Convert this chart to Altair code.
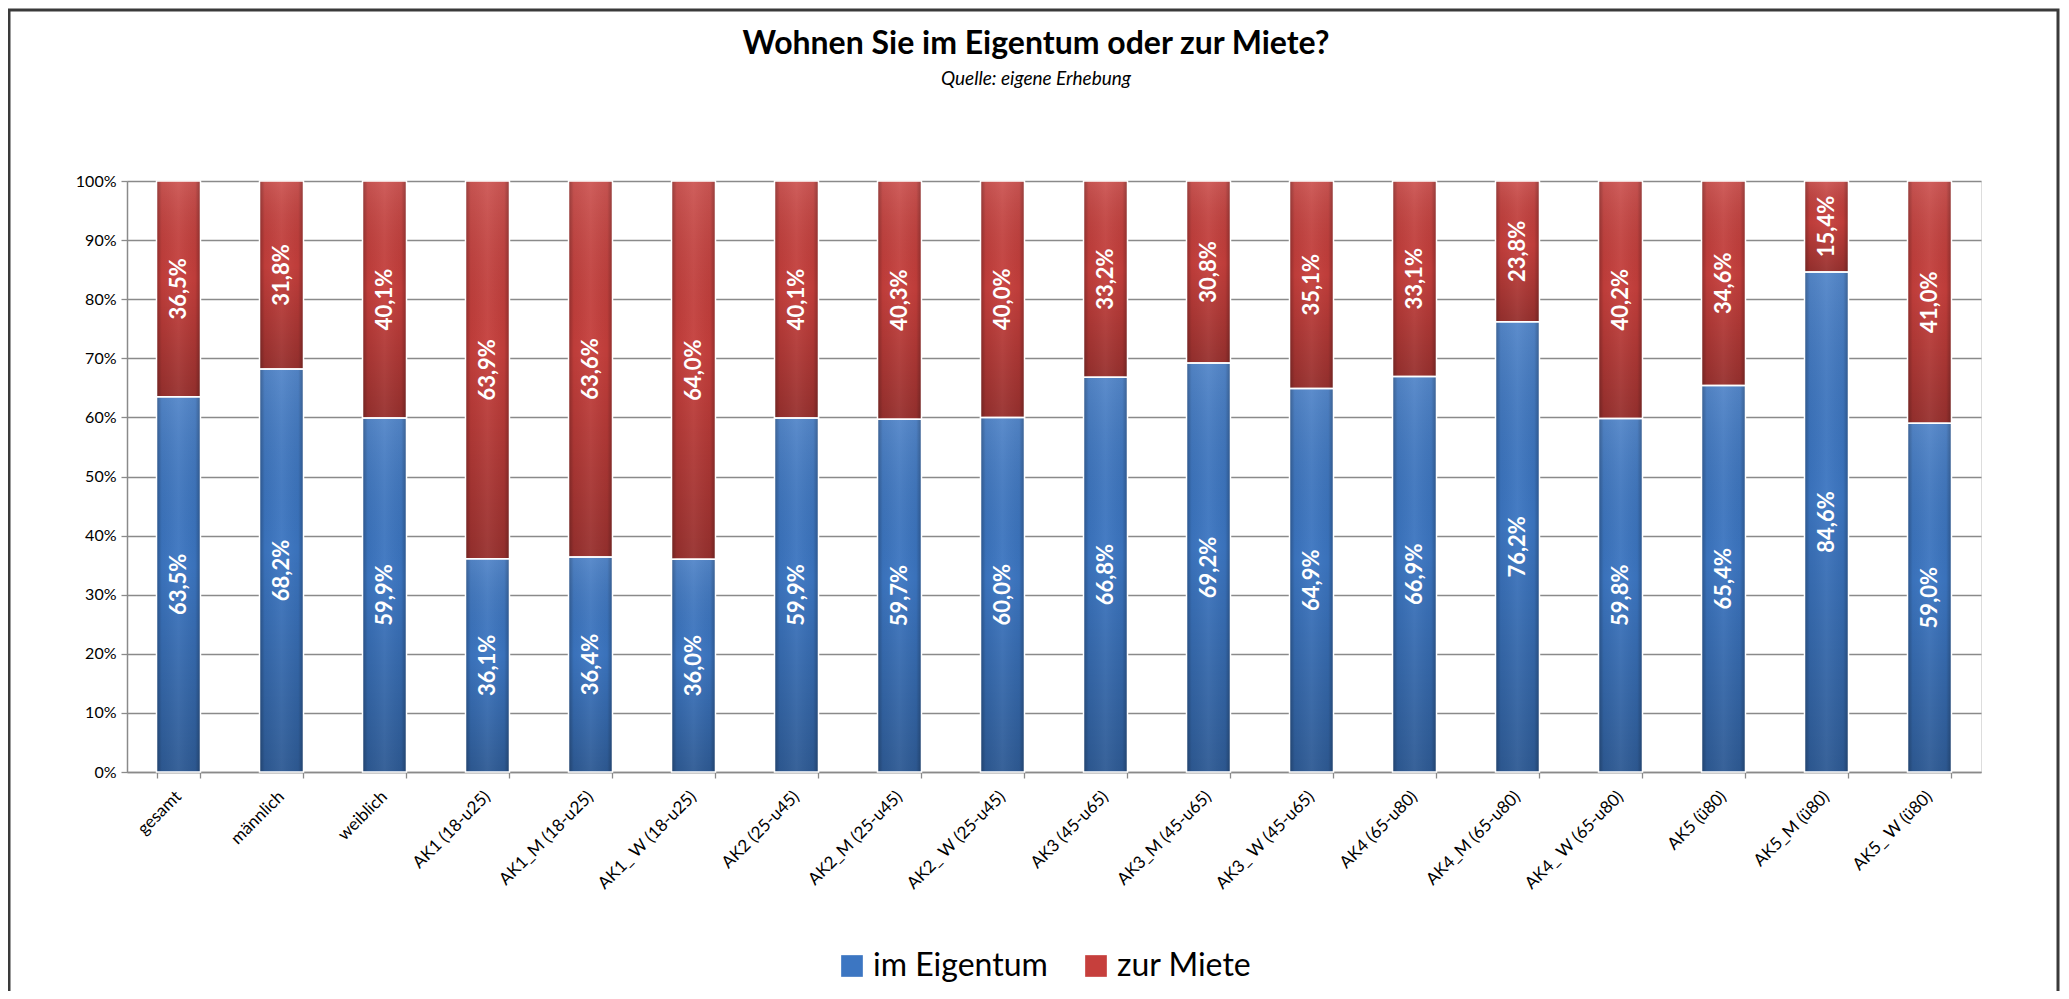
import altair as alt
import pandas as pd

categories = ["gesamt", "männlich", "weiblich",
              "AK1 (18-u25)", "AK1_M (18-u25)", "AK1_ W (18-u25)",
              "AK2 (25-u45)", "AK2_M (25-u45)", "AK2_ W (25-u45)",
              "AK3 (45-u65)", "AK3_M (45-u65)", "AK3_ W (45-u65)",
              "AK4 (65-u80)", "AK4_M (65-u80)", "AK4_ W (65-u80)",
              "AK5 (ü80)", "AK5_M (ü80)", "AK5_ W (ü80)"]
eigentum = [63.5, 68.2, 59.9, 36.1, 36.4, 36.0, 59.9, 59.7, 60.0,
            66.8, 69.2, 64.9, 66.9, 76.2, 59.8, 65.4, 84.6, 59.0]
miete = [36.5, 31.8, 40.1, 63.9, 63.6, 64.0, 40.1, 40.3, 40.0,
         33.2, 30.8, 35.1, 33.1, 23.8, 40.2, 34.6, 15.4, 41.0]
series_names = ["im Eigentum", "zur Miete"]
series_colors = ["#3C76C2", "#C63F3C"]
y_ticks = [0, 10, 20, 30, 40, 50, 60, 70, 80, 90, 100]

rows = []
for i, c in enumerate(categories):
    rows.append({"cat": c, "series": series_names[0], "ord": 0, "value": eigentum[i]})
    rows.append({"cat": c, "series": series_names[1], "ord": 1, "value": miete[i]})
df = pd.DataFrame(rows)

W, H = 1854, 591
FONT = "Lato"
GRAY = "#8a8a8a"

base = alt.Chart(df).transform_stack(
    stack="value", groupby=["cat"], as_=["y0", "y1"],
    sort=[alt.SortField("ord", order="ascending")]
).transform_calculate(
    mid="(datum.y0 + datum.y1) / 2",
    label="replace(format(datum.value, '.1f'), '.', ',') + '%'"
)

x_enc = alt.X("cat:N", sort=categories, title=None,
              scale=alt.Scale(paddingInner=0.573, paddingOuter=0.2865),
              axis=alt.Axis(labelAngle=-45, labelAlign="right", labelBaseline="top",
                            labelFontSize=17, labelFont=FONT, labelColor="black",
                            labelPadding=10, labelOffset=-6, tickBand="extent", tickSize=6,
                            tickColor=GRAY, tickWidth=1.3, domainColor=GRAY,
                            domainWidth=1.5, labelOverlap=False, labelLimit=0))
y_axis = alt.Axis(values=y_ticks, labelExpr="datum.value + '%'", title=None,
                  grid=True, gridColor=GRAY, gridWidth=1.3, tickSize=6,
                  tickColor=GRAY, tickWidth=1.3, domainColor=GRAY, domainWidth=1.5,
                  labelFontSize=16, labelFont=FONT, labelColor="black", labelPadding=5)
y_scale = alt.Scale(domain=[0, 100], nice=False)

bars = base.mark_bar().encode(
    x=x_enc,
    y=alt.Y("y0:Q", scale=y_scale, axis=y_axis),
    y2="y1:Q",
    color=alt.Color("series:N",
                    scale=alt.Scale(domain=series_names, range=series_colors),
                    legend=alt.Legend(orient="none", legendX=709, legendY=769,
                                      direction="horizontal", title=None,
                                      symbolType="square", symbolSize=470,
                                      symbolStrokeWidth=0, labelLimit=0,
                                      labelFontSize=32, labelFont=FONT,
                                      labelColor="black", columnPadding=32,
                                      labelOffset=5)),
)

vshade = base.mark_bar(fill=alt.Gradient(
    gradient="linear", x1=0, x2=0, y1=0, y2=1,
    stops=[alt.GradientStop(color="rgba(255,255,255,0.12)", offset=0),
           alt.GradientStop(color="rgba(0,0,0,0)", offset=0.45),
           alt.GradientStop(color="rgba(0,0,0,0.24)", offset=1)])).encode(
    x=x_enc, y=alt.Y("y0:Q", scale=y_scale, axis=y_axis), y2="y1:Q")

hshade = base.mark_bar(stroke="white", strokeWidth=1.5, fill=alt.Gradient(
    gradient="linear", x1=0, x2=1, y1=0, y2=0,
    stops=[alt.GradientStop(color="rgba(0,0,0,0.28)", offset=0),
           alt.GradientStop(color="rgba(0,0,0,0.04)", offset=0.12),
           alt.GradientStop(color="rgba(255,255,255,0.05)", offset=0.5),
           alt.GradientStop(color="rgba(0,0,0,0.04)", offset=0.88),
           alt.GradientStop(color="rgba(0,0,0,0.28)", offset=1)])).encode(
    x=x_enc, y=alt.Y("y0:Q", scale=y_scale, axis=y_axis), y2="y1:Q")

labels = base.mark_text(angle=270, color="white", font=FONT, fontWeight="bold",
                        fontSize=22, align="center", baseline="middle").encode(
    x=x_enc, y=alt.Y("mid:Q", scale=y_scale, axis=y_axis), text="label:N")

frame = alt.Chart(alt.Data(values=[{"k": 1}])).mark_rect(
    filled=False, stroke="#3a3a3a", strokeWidth=3).encode(
    x=alt.value(-118), x2=alt.value(1931), y=alt.value(-171), y2=alt.value(900))

chart = alt.layer(bars, vshade, hshade, labels, frame).properties(
    width=W, height=H,
    autosize=alt.AutoSizeParams(type="none"),
    padding={"left": 119, "top": 173, "right": 80, "bottom": 219},
    title=alt.TitleParams(text="Wohnen Sie im Eigentum oder zur Miete?",
                          subtitle="Quelle: eigene Erhebung",
                          font=FONT, fontSize=32, fontWeight="bold", color="black",
                          subtitleFont=FONT, subtitleFontSize=19,
                          subtitleFontStyle="italic", subtitleColor="black",
                          subtitlePadding=9, anchor="middle", offset=-81, dx=-18),
).configure_view(stroke=None).configure(background="white")

chart.save("out.html", embed_options={"renderer": "svg", "actions": False})
